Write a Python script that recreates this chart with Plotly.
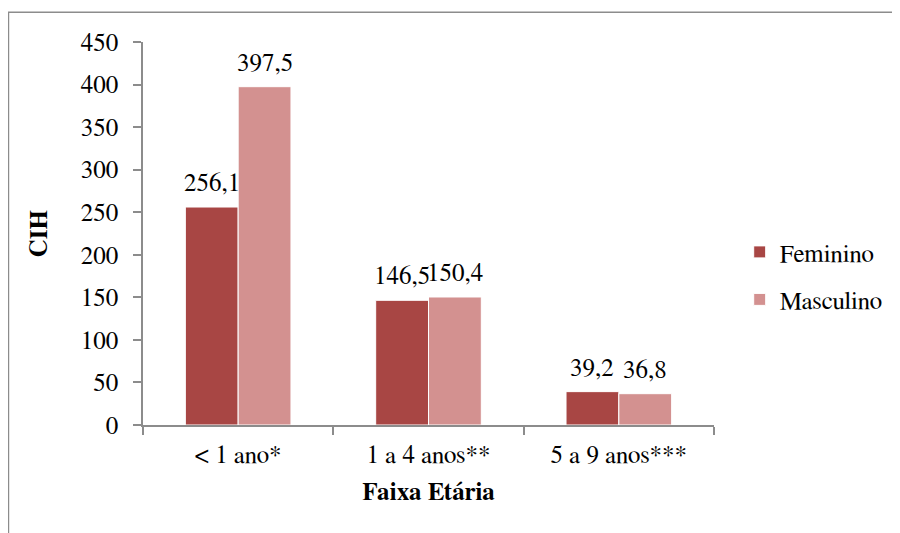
import plotly.graph_objects as go

categories = ["< 1 ano*", "1 a 4 anos**", "5 a 9 anos***"]
feminino = [256.1, 146.5, 39.2]
masculino = [397.5, 150.4, 36.8]
y_ticks = [0, 50, 100, 150, 200, 250, 300, 350, 400, 450]

FONT = "FreeSerif, Liberation Serif, serif"
FS = 25
C_FEM = "#A84644"
C_MAS = "#D39190"
BARGAP = 0.445

def fmt(v):
    return f"{v:.1f}".replace(".", ",")

fig = go.Figure()
fig.add_trace(go.Bar(name="Feminino", x=categories, y=feminino,
                     marker=dict(color=C_FEM, line=dict(color="white", width=1)),
                     legendgroup="f"))
fig.add_trace(go.Bar(name="Masculino", x=categories, y=masculino,
                     marker=dict(color=C_MAS, line=dict(color="white", width=1)),
                     legendgroup="m"))

off = (1 - BARGAP) / 4
annotations = []
for i, (f, m) in enumerate(zip(feminino, masculino)):
    annotations.append(dict(x=i - off, y=f, text=fmt(f), showarrow=False,
                            yanchor="bottom", yshift=9, xref="x", yref="y",
                            font=dict(family=FONT, size=FS, color="black")))
    annotations.append(dict(x=i + off, y=m, text=fmt(m), showarrow=False,
                            yanchor="bottom", yshift=9, xref="x", yref="y",
                            font=dict(family=FONT, size=FS, color="black")))

fig.update_layout(
    width=892, height=525,
    margin=dict(l=135, r=184, t=34, b=108),
    paper_bgcolor="white", plot_bgcolor="white",
    barmode="group", bargap=BARGAP, bargroupgap=0,
    font=dict(family=FONT, size=FS, color="black"),
    annotations=annotations,
    legend=dict(x=1.045, y=0.39, xanchor="left", yanchor="middle",
                font=dict(family=FONT, size=FS, color="black"),
                tracegroupgap=12, bgcolor="rgba(0,0,0,0)"),
    xaxis=dict(type="category", showline=True, linecolor="#8C8C8C", linewidth=1.5,
               ticks="outside", ticklen=8, tickcolor="#8C8C8C", tickwidth=1.5,
               tickson="boundaries", showgrid=False, ticklabelstandoff=6,
               tickfont=dict(family=FONT, size=FS, color="black"),
               title=dict(text="<b>Faixa Etária</b>", standoff=16,
                          font=dict(family=FONT, size=FS, color="black"))),
    yaxis=dict(range=[0, 450], tickvals=y_ticks,
               showline=True, linecolor="#8C8C8C",
               linewidth=1.5, ticks="outside", ticklen=8, tickcolor="#8C8C8C", tickwidth=1.5,
               showgrid=False, zeroline=False, ticklabelstandoff=10,
               tickfont=dict(family=FONT, size=FS, color="black"),
               title=dict(text="<b>CIH</b>", standoff=26,
                          font=dict(family=FONT, size=FS, color="black"))),
    shapes=[dict(type="rect", xref="paper", yref="paper",
                 x0=-0.2356, x1=1.5, y0=-0.5, y1=1.078,
                 line=dict(color="#8C8C8C", width=1.5), layer="below")],
)

fig.write_html("out.html")
